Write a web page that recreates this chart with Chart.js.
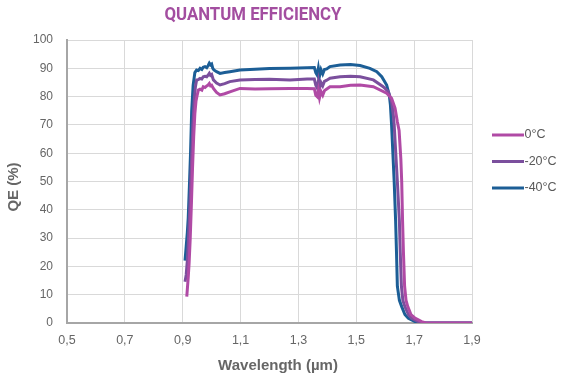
<!DOCTYPE html>
<html>
<head>
<meta charset="utf-8">
<script src="https://cdn.jsdelivr.net/npm/chart.js@4.4.1/dist/chart.umd.min.js"></script>
<style>
html,body{margin:0;padding:0;background:#fff;}
#wrap{width:564px;height:379px;position:relative;}
</style>
</head>
<body>
<div id="wrap"><canvas id="c" width="564" height="379"></canvas></div>
<script>
const chartTitle = 'QUANTUM EFFICIENCY';
const xAxisTitle = 'Wavelength (µm)';
const yAxisTitle = 'QE (%)';
const seriesNames = ['0°C', '-20°C', '-40°C'];
const seriesColors = ['#b04aa5', '#7b4f9d', '#1c5e96'];

const xTicks = [0.5, 0.7, 0.9, 1.1, 1.3, 1.5, 1.7, 1.9];
const xTickLabels = ['0,5', '0,7', '0,9', '1,1', '1,3', '1,5', '1,7', '1,9'];
const yTicks = [0, 10, 20, 30, 40, 50, 60, 70, 80, 90, 100];

// 0°C
const wl0 = [0.914,0.916,0.919,0.922,0.926,0.930,0.934,0.938,0.942,0.946,0.950,0.954,0.960,0.966,0.971,0.977,0.983,0.988,0.992,0.996,1.000,1.006,1.017,1.029,1.045,1.063,1.098,1.150,1.200,1.271,1.330,1.355,1.360,1.365,1.369,1.373,1.378,1.384,1.390,1.398,1.409,1.444,1.480,1.513,1.559,1.605,1.622,1.634,1.642,1.648,1.654,1.657,1.660,1.663,1.667,1.672,1.678,1.689,1.703,1.726,1.741,1.800,1.900];
const qe0 = [9.3,12,16,21,30,42,55,66,74,78.5,80.5,82.3,82.6,82.3,83.5,83.2,83.8,84.1,84.6,83.8,84,82.9,81.5,80.6,81,81.7,82.9,82.7,82.8,82.9,82.9,82.8,80.5,80,82.2,79.6,81.8,80.5,82.1,82.7,83.5,83.5,84,84.1,83.5,81.2,79.4,75.9,71.1,68,58,50,36,25,13,8,5.8,3,1.7,0.5,0,0,0];

// -20°C
const wl20 = [0.908,0.912,0.916,0.920,0.925,0.930,0.935,0.940,0.944,0.948,0.954,0.960,0.966,0.971,0.977,0.983,0.988,0.992,0.996,1.000,1.006,1.017,1.029,1.045,1.063,1.098,1.150,1.200,1.271,1.330,1.355,1.360,1.365,1.369,1.373,1.378,1.384,1.390,1.398,1.409,1.444,1.480,1.513,1.559,1.593,1.611,1.622,1.628,1.631,1.642,1.649,1.652,1.656,1.661,1.668,1.680,1.691,1.714,1.731,1.800,1.900];
const qe20 = [14.6,17,22,30,42,56,70,79,83.5,85.9,86,86.4,86.2,87,87.2,87,87.6,88.2,87.5,87.8,85.9,84.8,84.1,84.6,85.3,85.9,86,86.1,85.9,86.2,86.2,84,83,85.5,82.9,85,83.8,85.4,85.8,86.5,87,87.2,87,85.9,83.5,81.7,78.2,73.5,70,50,36,25,13,8,5.8,3,1.7,0.5,0,0,0];

// -40°C
const wl40 = [0.908,0.912,0.916,0.919,0.923,0.927,0.931,0.936,0.942,0.948,0.954,0.960,0.966,0.971,0.977,0.983,0.988,0.992,0.996,1.000,1.004,1.008,1.017,1.029,1.045,1.063,1.098,1.150,1.200,1.271,1.330,1.355,1.360,1.365,1.369,1.373,1.378,1.384,1.390,1.398,1.409,1.444,1.480,1.513,1.547,1.571,1.588,1.605,1.614,1.618,1.622,1.631,1.636,1.639,1.642,1.649,1.657,1.668,1.680,1.703,1.720,1.800,1.900];
const qe40 = [22,27,32,37,48,60,75,84,88.5,89.4,89.2,90,89.6,90.4,90.6,90.2,91,91.8,91.2,91.5,90,89.4,88.8,88.2,88.5,88.8,89.4,89.7,89.9,90,90.2,90.3,88.5,87.6,90,87.3,89.5,88,89.6,89.8,90.6,91.2,91.3,91,90,88.8,87,84.1,80.6,77,70,50,36,25,13,8,5.8,3,1.7,0.5,0,0,0];

const wlSeries = [wl0, wl20, wl40];
const qeSeries = [qe0, qe20, qe40];

const datasets = seriesNames.map((name, i) => ({
  label: name,
  data: wlSeries[i].map((x, j) => ({x: x, y: qeSeries[i][j]})),
  borderColor: seriesColors[i],
  backgroundColor: seriesColors[i],
  borderWidth: 3,
  pointRadius: 0,
  tension: 0,
  fill: false
}));

const textPlugin = {
  id: 'texts',
  afterDraw(chart) {
    const ctx = chart.ctx;
    ctx.save();
    // title
    ctx.fillStyle = '#a34ea0';
    ctx.font = 'bold 18px Roboto';
    ctx.textAlign = 'center';
    ctx.textBaseline = 'alphabetic';
    ctx.fillText(chartTitle, 253, 20, 177);
    // x axis title
    ctx.fillStyle = '#666666';
    ctx.font = 'bold 15px "Liberation Sans"';
    ctx.textBaseline = 'middle';
    ctx.fillText(xAxisTitle, 278, 366);
    // y axis title
    ctx.translate(14, 187);
    ctx.rotate(-Math.PI / 2);
    ctx.fillText(yAxisTitle, 0, 0);
    ctx.restore();
    // legend
    ctx.save();
    ctx.font = '12.5px "Liberation Sans"';
    ctx.textAlign = 'left';
    ctx.textBaseline = 'middle';
    const ys = [135, 161.5, 188];
    chart.data.datasets.forEach((ds, i) => {
      ctx.strokeStyle = ds.borderColor;
      ctx.lineWidth = 3;
      ctx.beginPath();
      ctx.moveTo(492, ys[i]);
      ctx.lineTo(524, ys[i]);
      ctx.stroke();
      ctx.fillStyle = '#595959';
      ctx.fillText(ds.label, 524.5, ys[i]);
    });
    ctx.restore();
  }
};

new Chart(document.getElementById('c'), {
  type: 'line',
  data: { datasets: datasets },
  options: {
    responsive: false,
    animation: false,
    layout: { padding: { left: 0, top: 40, right: 92, bottom: 0 } },
    plugins: { legend: { display: false }, title: { display: false }, tooltip: { enabled: false } },
    scales: {
      x: {
        type: 'linear',
        min: 0.5, max: 1.9,
        afterBuildTicks: s => { s.ticks = xTicks.map(v => ({value: v})); },
        afterFit: s => { s.height = 56; },
        ticks: {
          callback: (v, i) => xTickLabels[i],
          color: '#666666',
          font: { family: 'Liberation Sans', size: 12.5 },
          padding: 10,
          maxRotation: 0
        },
        grid: { color: '#d9d9d9', lineWidth: 1, drawTicks: false },
        border: { color: '#a6a6a6', width: 2 }
      },
      y: {
        min: 0, max: 100,
        afterBuildTicks: s => { s.ticks = yTicks.map(v => ({value: v})); },
        afterFit: s => { s.width = 67; },
        ticks: {
          color: '#666666',
          font: { family: 'Liberation Sans', size: 12 },
          padding: 14
        },
        grid: { color: '#d9d9d9', lineWidth: 1, drawTicks: false },
        border: { color: '#a6a6a6', width: 2 }
      }
    }
  },
  plugins: [textPlugin]
});
</script>
</body>
</html>
